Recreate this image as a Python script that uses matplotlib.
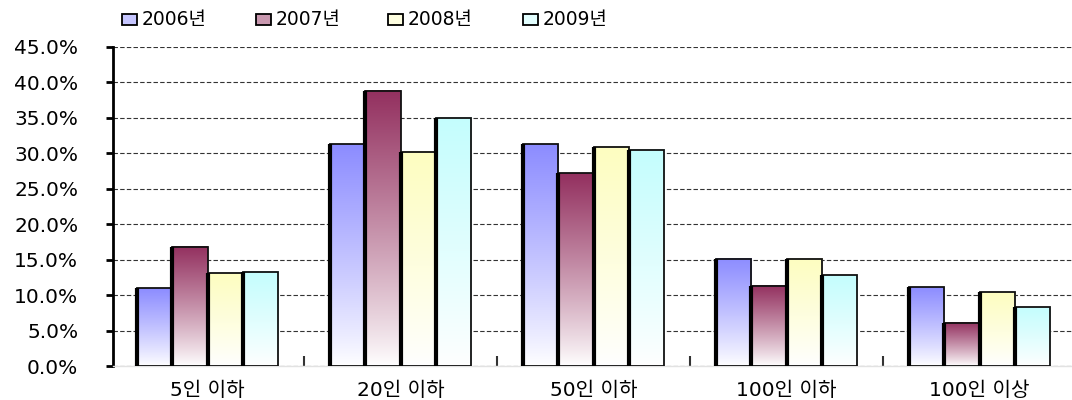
import numpy as np
import matplotlib
matplotlib.use("Agg")
import matplotlib.pyplot as plt
from matplotlib.patches import Rectangle
from matplotlib.colors import to_rgb

plt.rcParams['font.family'] = ['DejaVu Sans', 'Noto Sans CJK KR']

categories = ["5인 이하", "20인 이하", "50인 이하", "100인 이하", "100인 이상"]
years = ["2006년", "2007년", "2008년", "2009년"]
values = {
    "2006년": [11.0, 31.3, 31.3, 15.1, 11.1],
    "2007년": [16.8, 38.8, 27.2, 11.3, 6.1],
    "2008년": [13.1, 30.2, 30.9, 15.1, 10.4],
    "2009년": [13.3, 35.0, 30.5, 12.8, 8.3],
}
top_colors = ["#8c8cff", "#93305f", "#fdfdc0", "#c4fdfd"]
yticks = [0, 5, 10, 15, 20, 25, 30, 35, 40, 45]

W, H = 1072, 400
fig = plt.figure(figsize=(W / 100, H / 100), dpi=100)
ax = fig.add_axes([113 / W, 34 / H, (1076 - 113) / W, (366 - 47) / H])

x = np.arange(len(categories))
bw = 0.183


def gradient_bar(ax, x0, width, height, color):
    c = np.array(to_rgb(color))
    t = np.linspace(0, 1, 256)[:, None]  # 0 at bottom, 1 at top
    t = t ** 0.9
    img = (1 - t)[:, :, None] * np.ones(3) + t[:, :, None] * c
    img = np.repeat(img, 2, axis=1)
    ax.imshow(img, extent=[x0, x0 + width, 0, height], origin="lower",
              aspect="auto", interpolation="bilinear", zorder=2)
    ax.add_patch(Rectangle((x0, 0), width, height, fill=False,
                           edgecolor="#111111", linewidth=1.3, zorder=3))
    ax.plot([x0, x0], [0, height], color="black", linewidth=3.0,
            solid_capstyle="butt", zorder=4)


for i, (yr, col) in enumerate(zip(years, top_colors)):
    for xi, v in zip(x, values[yr]):
        x0 = xi - 2 * bw + i * bw
        gradient_bar(ax, x0, bw, v, col)

ax.set_xlim(-0.49, 4.5)
ax.set_ylim(0, 45)
ax.set_yticks(yticks)
ax.set_yticklabels([f"{v:.1f}%" for v in yticks], fontsize=14.5)
ax.set_xticks(x)
ax.set_xticklabels(categories, fontsize=14.5)
ax.tick_params(axis="x", length=0, pad=11)
ax.set_xticks([0.5, 1.5, 2.5, 3.5], minor=True)
ax.tick_params(axis="x", which="minor", direction="in", length=7,
               width=1.5, color="#333333")
ax.tick_params(axis="y", direction="out", length=5, width=2, pad=20)

ax.yaxis.grid(True, linestyle=(0, (4, 2)), color="#333333", linewidth=0.8)
ax.set_axisbelow(True)
for s in ["top", "right"]:
    ax.spines[s].set_visible(False)
ax.spines["left"].set_linewidth(2)
ax.spines["bottom"].set_color("#e2e2e2")
ax.spines["bottom"].set_linewidth(1)

# legend row above the plot
lx = [122, 256, 388, 523]
for px, yr, col in zip(lx, years, top_colors):
    c = np.array(to_rgb(col))
    face = 0.5 * c + 0.5 * np.ones(3)
    fig.patches.append(Rectangle((px / W, 1 - 25 / H), 15 / W, 11 / H,
                                 transform=fig.transFigure, facecolor=face,
                                 edgecolor="black", linewidth=1.3))
    fig.text((px + 20) / W, 1 - 19 / H, yr, fontsize=13.5, va="center",
             ha="left")

fig.savefig("out.png", dpi=100)
